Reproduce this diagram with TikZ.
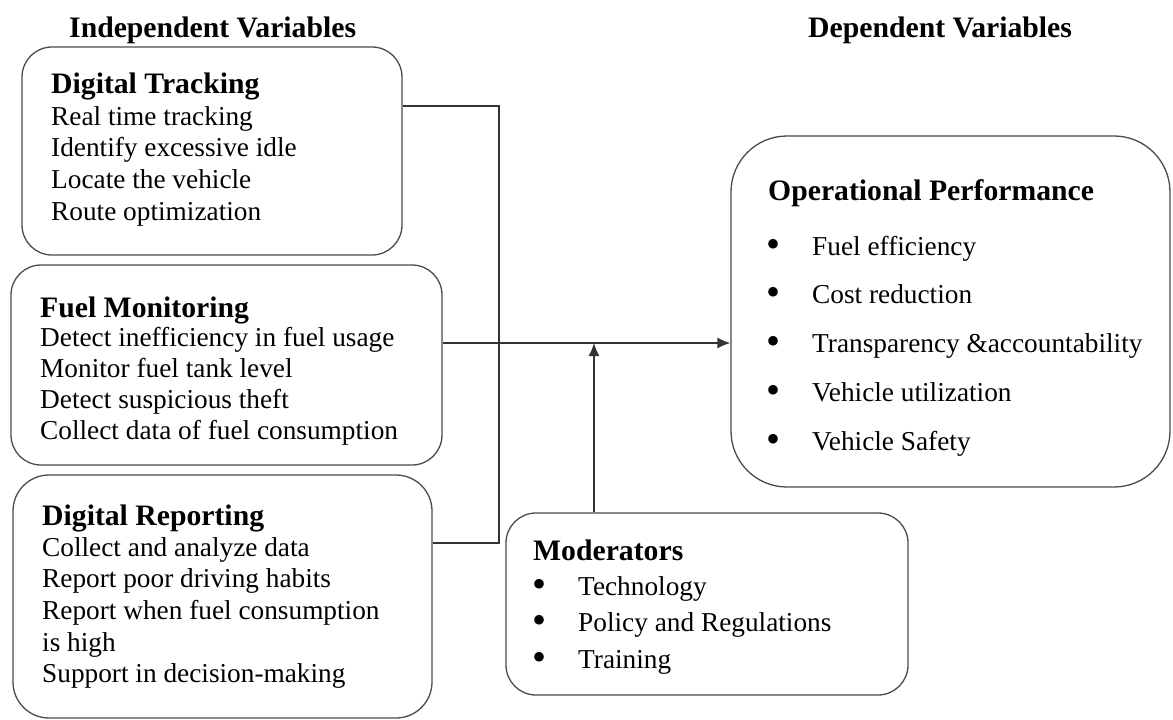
\documentclass[tikz,border=0pt]{standalone}
\usepackage{fontspec}
\setmainfont{Liberation Serif}
\usetikzlibrary{positioning,arrows.meta}

\begin{document}
\begin{tikzpicture}[x=1pt,y=-1pt,
  box/.style={draw=black!70,line width=1.3pt,rounded corners=#1,inner sep=0pt},
  box/.default=30pt,
  head/.style={anchor=base west,inner sep=0pt,font=\fontsize{29.7}{34}\selectfont\bfseries},
  item/.style={anchor=base west,inner sep=0pt,font=\fontsize{27.3}{31}\selectfont},
  dot/.style={anchor=base,inner sep=0pt,yshift=-2pt,font=\fontsize{40}{42}\selectfont},
  link/.style={draw=black!80,line width=1.4pt},
  arr/.style={link,-{Latex[length=13pt,width=11pt]}}]
  \useasboundingbox (0,0) rectangle (1173,720);

  \node[head] (indep) at (69,37) {Independent Variables};
  \node[head] (dep) at (808,37) {Dependent Variables};

  \node[box,minimum width=380pt,minimum height=208pt] (dt) at (212,151) {};
  \node[head] (dthead) at (51,93) {Digital Tracking};
  \foreach \t [count=\i from 0] in {Real time tracking,Identify excessive idle,Locate the vehicle,Route optimization}
    \node[item] (dt\i) at (51,{125+31.7*\i}) {\t};

  \node[box,minimum width=431pt,minimum height=200pt] (fm) at (226.5,365) {};
  \node[head] (fmhead) at (40,317) {Fuel Monitoring};
  \foreach \t [count=\i from 0] in {Detect inefficiency in fuel usage,Monitor fuel tank level,Detect suspicious theft,Collect data of fuel consumption}
    \node[item] (fm\i) at (40,{346+31.3*\i}) {\t};

  \node[box=36pt,minimum width=419pt,minimum height=243pt] (dr) at (222.5,596.5) {};
  \node[head] (drhead) at (42,525) {Digital Reporting};
  \foreach \t [count=\i from 0] in {Collect and analyze data,Report poor driving habits,Report when fuel consumption,is high,Support in decision-making}
    \node[item] (dr\i) at (42,{556+31.7*\i}) {\t};

  \node[box=56pt,minimum width=439pt,minimum height=351pt] (op) at (950.5,311.5) {};
  \node[head] (ophead) at (768,200) {Operational Performance};
  \foreach \t [count=\i from 0] in {Fuel efficiency,Cost reduction,Transparency \&accountability,Vehicle utilization,Vehicle Safety}{
    \node[dot] (opb\i) at (773,{255+48.8*\i}) {\textbullet};
    \node[item] (op\i) at (812,{255+48.8*\i}) {\t};
  }

  \node[box,minimum width=402pt,minimum height=182pt] (mod) at (707,604) {};
  \node[head] (modhead) at (533,560) {Moderators};
  \foreach \t [count=\i from 0] in {Technology,Policy and Regulations,Training}{
    \node[dot] (modb\i) at (539,{595+36.5*\i}) {\textbullet};
    \node[item] (mod\i) at (578,{595+36.5*\i}) {\t};
  }

  \coordinate (j1) at (499,106);
  \coordinate (j2) at (594,343);
  \coordinate (j3) at (499,543);
  \draw[link] (dt.east |- j1) -- (j1) -- (j3) -- (dr.east |- j3);
  \draw[arr] (fm.east |- j2) -- (op.west |- j2);
  \draw[arr] (j2 |- mod.north) -- (j2);
\end{tikzpicture}
\end{document}
